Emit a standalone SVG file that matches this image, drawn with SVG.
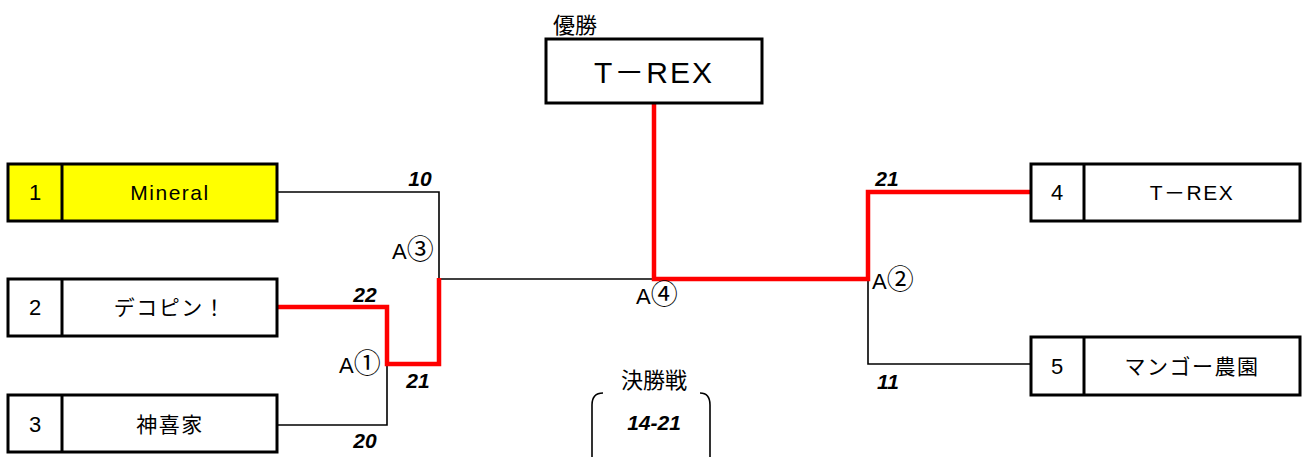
<svg xmlns="http://www.w3.org/2000/svg" width="1303" height="457" viewBox="0 0 1303 457">
<style>
.box{fill:#fff;stroke:#000;stroke-width:3}
.yel{fill:#ffff00}
.div{stroke:#000;stroke-width:3}
.t{font-family:"Liberation Sans","Noto Sans CJK JP",sans-serif;fill:#000;text-anchor:middle;dominant-baseline:central}
.num{font-size:22px}
.name{font-size:21px;letter-spacing:1.5px}
.sc{font-family:"Liberation Sans",sans-serif;font-weight:bold;font-style:italic;font-size:21px;text-anchor:middle}
.lab{font-family:"Liberation Sans","Noto Sans CJK JP",sans-serif;font-size:22px}
.cir{font-family:"Noto Sans CJK JP",sans-serif;font-size:27px}
.blk{fill:none;stroke:#000;stroke-width:1.6}
.red{fill:none;stroke:#ff0000;stroke-width:4.5}
</style>
<rect width="1303" height="457" fill="#fff"/>
<g id="connectors">
<path class="blk" d="M277,192 H439 V278"/>
<path class="blk" d="M277,425 H387 V364"/>
<path class="blk" d="M439,279 H654"/>
<path class="blk" d="M868,280 V364 H1031"/>
<path class="red" d="M277,307 H387 V364 H439 V278"/>
<path class="red" d="M654,103 V279 H868 V192 H1031"/>
</g>
<g id="winner">
<text class="lab" x="553" y="33" font-size="21">優勝</text>
<rect class="box" x="546" y="39" width="216" height="64"/>
<text class="t" x="654" y="72" font-size="30" letter-spacing="2">T－REX</text>
</g>
<g id="team1">
<rect class="box yel" x="8" y="164" width="269" height="57"/>
<line class="div" x1="62" y1="164" x2="62" y2="221"/>
<text class="t num" x="35" y="192">1</text>
<text class="t name" x="170" y="192">Mineral</text>
</g>
<g id="team2">
<rect class="box" x="8" y="279" width="269" height="57"/>
<line class="div" x1="62" y1="279" x2="62" y2="336"/>
<text class="t num" x="35" y="307">2</text>
<text class="t name" x="170" y="307">デコピン！</text>
</g>
<g id="team3">
<rect class="box" x="8" y="395" width="269" height="57"/>
<line class="div" x1="62" y1="395" x2="62" y2="452"/>
<text class="t num" x="35" y="424">3</text>
<text class="t name" x="170" y="424">神喜家</text>
</g>
<g id="team4">
<rect class="box" x="1031" y="164" width="269" height="57"/>
<line class="div" x1="1084" y1="164" x2="1084" y2="221"/>
<text class="t num" x="1057" y="192">4</text>
<text class="t name" x="1192" y="192">T－REX</text>
</g>
<g id="team5">
<rect class="box" x="1031" y="337" width="269" height="58"/>
<line class="div" x1="1084" y1="337" x2="1084" y2="395"/>
<text class="t num" x="1057" y="366">5</text>
<text class="t name" x="1192" y="366">マンゴー農園</text>
</g>
<g id="scores">
<text class="sc" x="420" y="186">10</text>
<text class="sc" x="365" y="302">22</text>
<text class="sc" x="418" y="388">21</text>
<text class="sc" x="365" y="448">20</text>
<text class="sc" x="887" y="186">21</text>
<text class="sc" x="888" y="389">11</text>
</g>
<g id="labels">
<text class="lab" x="392" y="259">A<tspan class="cir">③</tspan></text>
<text class="lab" x="339" y="373">A<tspan class="cir">①</tspan></text>
<text class="lab" x="872" y="289">A<tspan class="cir">②</tspan></text>
<text class="lab" x="636" y="304">A<tspan class="cir">④</tspan></text>
</g>
<g id="final">
<text class="lab" x="654" y="388" font-size="21" text-anchor="middle">決勝戦</text>
<path class="blk" d="M603,393 Q592,393 592,405 V457"/>
<path class="blk" d="M700,393 Q710,393 710,405 V457"/>
<text class="sc" x="654" y="430" font-size="21">14-21</text>
</g>
</svg>
